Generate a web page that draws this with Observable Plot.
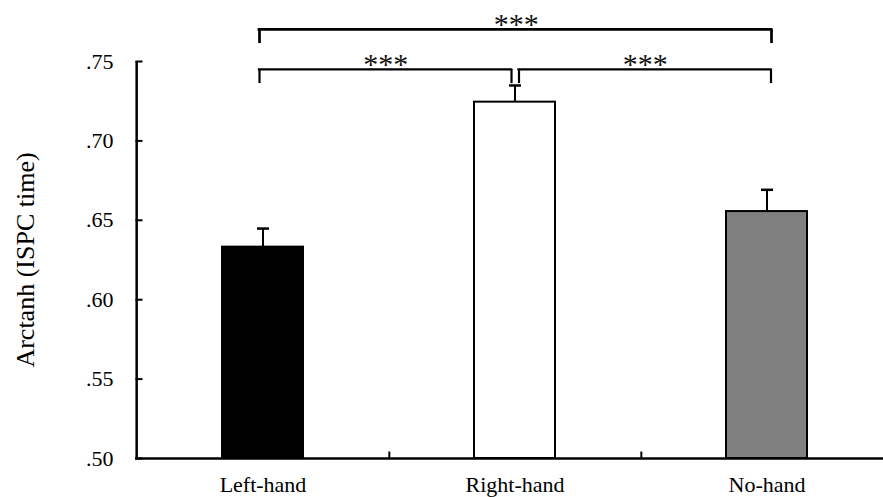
<!DOCTYPE html>
<html><head><meta charset="utf-8">
<script src="https://cdn.jsdelivr.net/npm/d3@7"></script>
<script src="https://cdn.jsdelivr.net/npm/@observablehq/plot@0.6"></script>
<style>body{margin:0;background:#fff;}</style>
</head><body><div id="chart"></div>
<script>
// ---- data ----
const categories = ["Left-hand", "Right-hand", "No-hand"];
const means = [0.6331, 0.7244, 0.6555];
const upperErrors = [0.6448, 0.7349, 0.6692];
const barFills = ["#000000", "#ffffff", "#808080"];
const yTicks = [0.50, 0.55, 0.60, 0.65, 0.70, 0.75];
const comparisonPairs = [["Left-hand", "Right-hand"], ["Right-hand", "No-hand"], ["Left-hand", "No-hand"]];
const comparisonLevels = [0.745, 0.745, 0.7702];
const comparisonLabels = ["***", "***", "***"];
const yLabel = "Arctanh (ISPC time)";

// ---- styles / layout ----
const W = 883, H = 497, mL = 135, mR = -10, mT = 61, mB = 39;
const padIn = 0.68, padOut = 0.34;
const step = (W - mL - mR) / (categories.length - padIn + 2 * padOut);
const bw = step * (1 - padIn);
const drop = 0.0089;
const bracketNudges = [[-3.5, -3.5], [4, 4], [-3.5, 4.5]];
const bracketWidths = [2.2, 2.2, 2.7];

const data = categories.map((c, i) => ({category: c, mean: means[i], upper: upperErrors[i], fill: barFills[i]}));
const comps = comparisonPairs.map(([a, b], i) => ({from: a, to: b, level: comparisonLevels[i], label: comparisonLabels[i]}));

const capSym = {draw(ctx) { ctx.moveTo(-6, 0); ctx.lineTo(6, 0); }};
const tickRight = {draw(ctx) { ctx.moveTo(0, 0); ctx.lineTo(7, 0); }};
const tickUp = {draw(ctx) { ctx.moveTo(0, 0); ctx.lineTo(0, -7); }};

const bracketMarks = comps.flatMap((c, i) => {
  const [dl, dr] = bracketNudges[i];
  const sw = bracketWidths[i];
  const span = categories.indexOf(c.to) - categories.indexOf(c.from);
  return [
    Plot.ruleX([c], {x: "from", y1: d => d.level - drop, y2: "level", dx: dl, stroke: "black", strokeWidth: sw}),
    Plot.ruleX([c], {x: "to", y1: d => d.level - drop, y2: "level", dx: dr, stroke: "black", strokeWidth: sw}),
    Plot.ruleY([c], {x1: "from", x2: "to", y: "level", insetLeft: bw / 2 + dl, insetRight: bw / 2 - dr, stroke: "black", strokeWidth: sw, strokeLinecap: "square"}),
    Plot.text([c], {x: "from", y: "level", text: "label", dx: span * step / 2 + (dl + dr) / 2, dy: 5, lineAnchor: "bottom", fontSize: 30, fill: "#111"})
  ];
});

const chart = Plot.plot({
  width: W, height: H,
  marginLeft: mL, marginRight: mR, marginTop: mT, marginBottom: mB,
  style: {fontFamily: "'Liberation Serif', 'Times New Roman', serif", fontSize: "21px", color: "black", background: "white", overflow: "visible"},
  x: {domain: categories, paddingInner: padIn, paddingOuter: padOut, label: null},
  y: {domain: [0.5, 0.75], label: null},
  color: {type: "identity"},
  marks: [
    Plot.barY(data, {x: "category", y1: 0.5, y2: "mean", fill: "fill", stroke: "black", strokeWidth: 2}),
    Plot.ruleX(data, {x: "category", y1: "mean", y2: "upper", stroke: "black", strokeWidth: 2}),
    Plot.dot(data, {x: "category", y: "upper", symbol: capSym, fill: "none", stroke: "black", strokeWidth: 2.5}),
    Plot.ruleY([0.5], {stroke: "black", strokeWidth: 2.5}),
    Plot.ruleX([categories[0]], {x: d => d, y1: 0.5, y2: 0.75, dx: -step / 2, stroke: "black", strokeWidth: 2.5}),
    Plot.dot(yTicks, {y: d => d, frameAnchor: "left", symbol: tickRight, fill: "none", stroke: "black", strokeWidth: 2}),
    Plot.dot(categories.slice(0, -1), {x: d => d, y: 0.5, dx: step / 2, symbol: tickUp, fill: "none", stroke: "black", strokeWidth: 2}),
    Plot.axisY({ticks: yTicks, tickFormat: d => d3.format(".2f")(d).replace(/^0/, ""), tickSize: 0, tickPadding: 22, fontSize: 22, label: null}),
    Plot.axisX({tickSize: 0, tickPadding: 18, fontSize: 22, label: null}),
    Plot.text([yLabel], {text: d => d, frameAnchor: "left", dx: -102, rotate: -90, lineAnchor: "bottom", textAnchor: "middle", fontSize: 26, fill: "black"}),
    ...bracketMarks
  ]
});
document.getElementById("chart").appendChild(chart);
</script>
</body></html>
